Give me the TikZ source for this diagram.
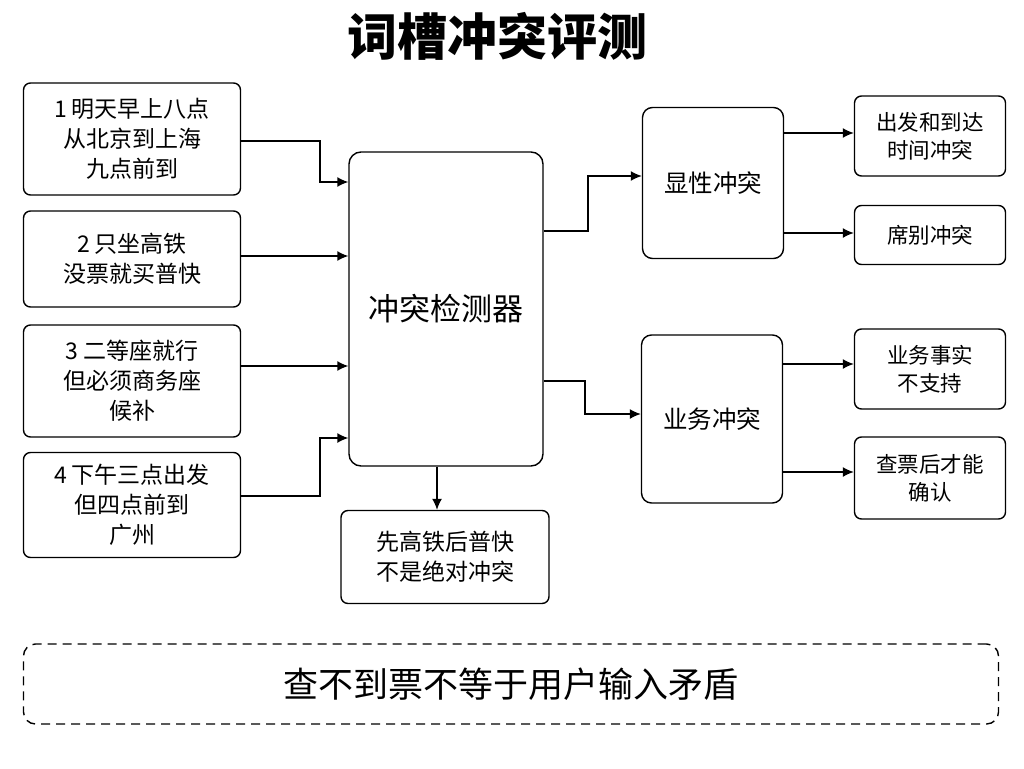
\documentclass[tikz,border=0pt]{standalone}
\usepackage{fontspec}
\setmainfont{Noto Sans CJK SC}
\usetikzlibrary{arrows.meta}
\tikzset{
  box/.style={draw,line width=1.4pt,rounded corners=7pt,align=center,
    inner sep=0pt,font=\fontsize{23}{30}\selectfont},
  small/.style={font=\fontsize{21.5}{28}\selectfont},
  link/.style={line width=1.4pt,-{Latex[length=11pt,width=10pt]}}
}
\begin{document}
\begin{tikzpicture}[x=1pt,y=-1pt]
    % Frame
    \useasboundingbox (0,0) rectangle (1024,768);
    \node[font=\fontsize{50}{54}\bfseries\selectfont] (title) at (497,36) {词槽冲突评测};
    % Inputs
    \node[box,minimum width=217pt,minimum height=112pt] (in1) at (132,139) {1 明天早上八点\\从北京到上海\\九点前到};
    \node[box,minimum width=217pt,minimum height=96pt] (in2) at (132,259) {2 只坐高铁\\没票就买普快};
    \node[box,minimum width=217pt,minimum height=112pt] (in3) at (132,381) {3 二等座就行\\但必须商务座\\候补};
    \node[box,minimum width=217pt,minimum height=105pt] (in4) at (132,505) {4 下午三点出发\\但四点前到\\广州};
    % Detector
    \node[box,minimum width=194pt,minimum height=314pt,rounded corners=12pt,
      font=\fontsize{31}{36}\selectfont] (det) at (446,309) {冲突检测器};
    \node[box,minimum width=208pt,minimum height=93pt] (note) at (445,557) {先高铁后普快\\不是绝对冲突};
    % Classes
    \node[box,minimum width=141pt,minimum height=151pt,rounded corners=10pt,
      font=\fontsize{24.5}{30}\selectfont] (exp) at (713,183) {显性冲突};
    \node[box,minimum width=141pt,minimum height=168pt,rounded corners=10pt,
      font=\fontsize{24.5}{30}\selectfont] (biz) at (712,419) {业务冲突};
    \node[box,small,minimum width=151pt,minimum height=80pt] (o1) at (930,136) {出发和到达\\时间冲突};
    \node[box,small,minimum width=151pt,minimum height=59pt] (o2) at (930,235) {席别冲突};
    \node[box,small,minimum width=151pt,minimum height=80pt] (o3) at (930,369) {业务事实\\不支持};
    \node[box,small,minimum width=151pt,minimum height=82pt] (o4) at (930,478) {查票后才能\\确认};
    % Footer
    \node[box,dashed,dash pattern=on 9pt off 6pt,minimum width=975pt,minimum height=80pt,
      rounded corners=12pt,font=\fontsize{35}{40}\selectfont] (foot) at (511,684) {查不到票不等于用户输入矛盾};
    % Wires
    \draw[link] (in1.east |- 0,141) -- (320,141) |- (det.west |- 0,182);
    \draw[link] (in2.east |- 0,256) -- (det.west |- 0,256);
    \draw[link] (in3.east |- 0,366) -- (det.west |- 0,366);
    \draw[link] (in4.east |- 0,496) -- (320,496) |- (det.west |- 0,438);
    \draw[link] (det.south -| 437,0) -- (note.north -| 437,0);
    \draw[link] (det.east |- 0,231) -- (588,231) |- (exp.west |- 0,176);
    \draw[link] (det.east |- 0,381) -- (585,381) |- (biz.west |- 0,414);
    \draw[link] (exp.east |- 0,133) -- (o1.west |- 0,133);
    \draw[link] (exp.east |- 0,233) -- (o2.west |- 0,233);
    \draw[link] (biz.east |- 0,364) -- (o3.west |- 0,364);
    \draw[link] (biz.east |- 0,472) -- (o4.west |- 0,472);
\end{tikzpicture}
\end{document}
